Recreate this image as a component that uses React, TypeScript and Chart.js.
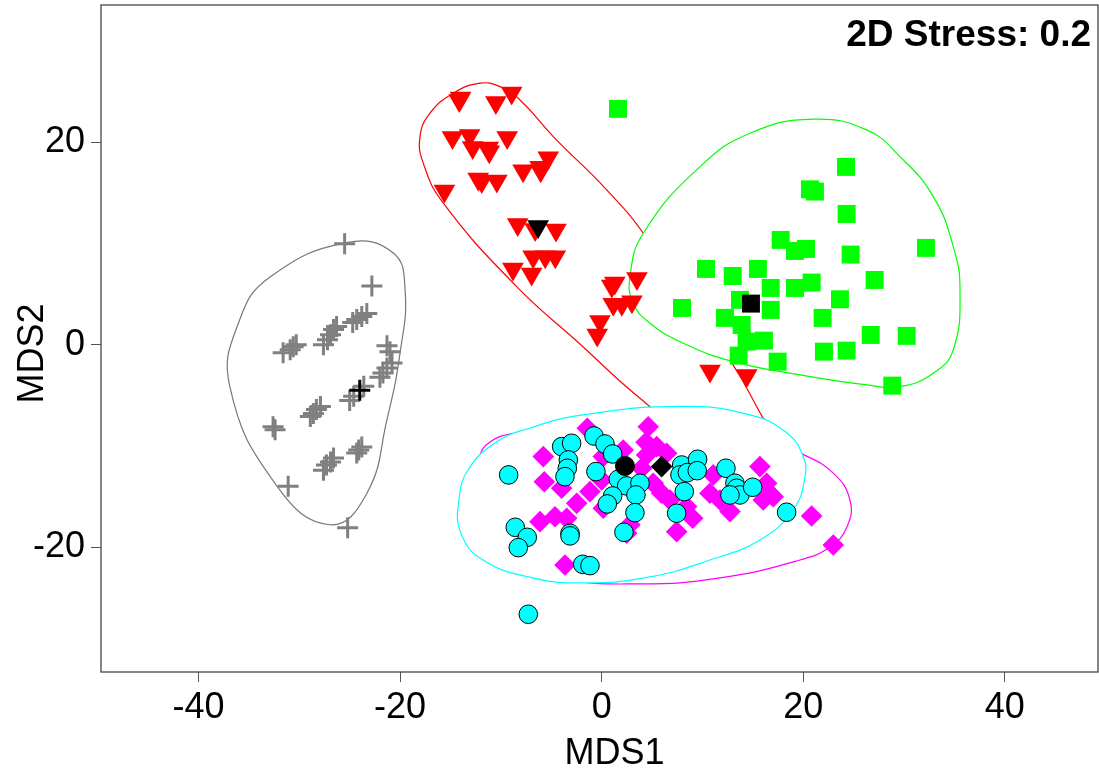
import React, { useEffect, useRef } from "react";
import { Chart, registerables } from "chart.js";

Chart.register(...registerables);

type P = [number, number];

const FONT = "'Liberation Sans', Arial, Helvetica, sans-serif";

const xRange: P = [-49.67, 49.24];
const yRange: P = [-32.36, 33.6];
const xTickValues = [-40, -20, 0, 20, 40];
const yTickValues = [-20, 0, 20];
const xTitle = "   MDS1";
const yTitle = "MDS2   ";
const stressLabel = "2D Stress: 0.2";

const grayPoints: P[] = [
  [-25.5, 10.0], [-22.8, 5.8], [-23.3, 3.1], [-23.8, 2.8], [-24.3, 2.5], [-24.7, 2.2],
  [-26.3, 1.8], [-26.6, 1.5], [-26.9, 1.0], [-27.2, 0.5], [-27.6, 0.0],
  [-30.3, 0.0], [-30.6, -0.2], [-30.9, -0.5], [-31.6, -0.8],
  [-21.3, -0.1], [-21.0, -0.7], [-20.8, -1.8], [-21.3, -2.3], [-21.7, -2.8], [-22.0, -3.2],
  [-23.6, -4.1], [-24.6, -5.1], [-25.0, -5.5],
  [-27.9, -6.1], [-28.3, -6.4], [-28.6, -6.8], [-28.9, -7.1],
  [-32.6, -8.1], [-32.4, -8.4],
  [-23.8, -10.1], [-24.1, -10.4], [-24.3, -10.7],
  [-26.6, -11.2], [-26.9, -11.6], [-27.3, -11.9], [-27.6, -12.4],
  [-31.1, -14.0], [-25.2, -18.1],
];

const redPoints: P[] = [
  [-14.13, 24.15], [-14.0, 24.4], [-10.5, 23.95], [-8.93, 24.9], [-14.8, 20.5], [-13.1, 20.7],
  [-12.8, 19.5], [-11.25, 19.45], [-11.15, 19.1], [-9.37, 20.5], [-5.3, 18.5], [-6.1, 17.55],
  [-6.05, 17.2], [-7.8, 17.2], [-12.25, 16.4], [-11.9, 16.15], [-10.4, 16.2], [-15.6, 15.2],
  [-8.33, 11.9], [-6.6, 11.4], [-4.53, 11.35], [-6.8, 8.7], [-5.6, 8.7], [-4.6, 8.7],
  [-8.8, 7.5], [-6.95, 7.0], [1.3, 6.1], [1.0, 5.8], [3.5, 6.55], [1.15, 4.0], [2.0, 4.0],
  [3.0, 4.25], [-0.17, 2.3], [-0.44, 0.97], [10.75, -2.6], [14.4, -3.05],
];

const greenPoints: P[] = [
  [1.62, 23.33], [24.24, 17.59], [20.66, 15.37], [21.16, 15.15], [24.3, 12.94], [17.76, 10.37],
  [19.18, 9.28], [20.27, 9.48], [32.17, 9.58], [24.7, 8.92], [10.35, 7.5], [13.0, 6.8],
  [15.5, 7.5], [27.08, 6.41], [16.77, 5.62], [19.18, 5.62], [20.83, 6.15], [23.64, 4.5],
  [7.97, 3.64], [13.72, 4.44], [16.77, 3.45], [12.23, 2.66], [13.89, 1.96], [21.92, 2.66],
  [26.69, 0.97], [30.26, 0.88], [14.38, 0.31], [16.1, 0.41], [13.59, -1.07], [17.46, -1.67],
  [22.05, -0.68], [24.3, -0.58], [28.83, -4.04],
];

const magentaPoints: P[] = [
  [-1.43, -8.26], [-5.79, -11.06], [-5.69, -13.54], [-3.97, -14.19], [-6.12, -17.49],
  [-4.63, -17.0], [-3.47, -17.16], [-2.48, -15.68], [-1.16, -14.52], [0.16, -16.17],
  [-3.64, -21.78], [2.14, -10.4], [0.16, -11.06], [3.97, -12.21], [0.0, -13.37],
  [4.62, -8.1], [4.4, -9.65], [5.46, -10.07], [6.45, -10.73], [4.46, -10.9],
  [5.12, -13.69], [5.95, -14.68], [6.78, -15.35], [8.43, -16.0], [9.03, -17.16],
  [7.44, -18.48], [11.07, -12.87], [10.74, -14.68], [11.74, -15.35], [12.73, -16.5],
  [15.7, -12.05], [16.37, -13.69], [17.02, -15.02], [16.03, -15.35], [20.83, -16.93],
  [22.98, -19.8], [2.8, -17.8], [2.48, -18.64],
];

const cyanPoints: P[] = [
  [-9.23, -12.87], [-3.97, -10.07], [-2.98, -9.74], [-3.31, -11.39], [-3.41, -12.21],
  [-3.64, -13.04], [-0.76, -9.02], [0.33, -9.81], [1.09, -10.8], [-0.57, -12.54],
  [1.65, -13.3], [2.48, -13.96], [3.8, -13.69], [3.4, -14.85], [1.09, -14.95],
  [0.56, -15.74], [3.3, -16.6], [2.21, -18.54], [-8.57, -18.05], [-7.38, -19.04],
  [-8.27, -20.06], [-3.14, -18.64], [-3.14, -18.9], [-1.88, -21.71], [-1.16, -21.84],
  [-7.28, -26.65], [7.94, -11.89], [9.52, -11.32], [7.77, -12.87], [8.5, -12.64],
  [9.48, -12.45], [8.2, -14.52], [7.44, -16.66], [12.33, -12.21], [13.22, -13.69],
  [13.39, -14.19], [13.72, -14.85], [12.73, -14.85], [14.98, -14.09], [18.35, -16.56],
];

// group centroids: gray, red, green, magenta, cyan
const centroidPoints: P[] = [
  [-24.0, -4.5], [-6.3, 11.7], [14.81, 4.07], [5.95, -12.05], [2.31, -11.98],
];

const grayHull: P[] = [
  [-25.3, 10.1], [-20.7, 9.1], [-19.5, 5.4], [-20.0, -0.8], [-21.3, -7.4], [-23.3, -14.7],
  [-26.95, -17.8], [-32.2, -14.0], [-36.9, -4.1], [-35.9, 2.5], [-32.9, 6.7],
];

const redHull: P[] = [
  [-12.07, 25.87], [-14.72, 24.88], [-17.03, 22.9], [-18.02, 20.59], [-17.7, 17.96],
  [-15.71, 14.0], [-8.43, 5.75], [-2.32, 0.23], [3.8, -5.29], [9.75, -9.71], [14.71, -10.9],
  [16.7, -8.42], [16.0, -7.23], [13.03, -1.99], [4.13, 11.03], [0.5, 15.32], [-4.8, 20.59],
  [-8.1, 24.2], [-10.09, 25.53],
];

const greenHull: P[] = [
  [2.81, 6.74], [4.13, 11.03], [9.75, 17.62], [14.71, 20.92], [20.99, 22.31], [26.29, 21.25],
  [29.59, 18.61], [32.9, 14.65], [34.88, 9.71], [35.55, 5.43], [34.88, -0.51], [32.9, -2.81],
  [29.59, -4.14], [26.29, -3.97], [19.67, -2.98], [13.06, -1.67], [8.1, 0.15], [4.79, 2.13],
  [3.13, 4.11],
];

const magentaHull: P[] = [
  [-12.37, -13.37], [-12.17, -11.19], [-11.08, -9.61], [-8.5, -8.72], [-5.13, -8.52],
  [1.82, -8.42], [9.75, -8.71], [16.7, -9.5], [19.67, -10.69], [22.95, -12.67],
  [24.63, -15.35], [24.33, -18.02], [22.65, -20.0], [19.67, -21.28], [11.74, -23.06],
  [3.8, -23.65], [-4.13, -23.06], [-10.09, -20.78], [-12.27, -16.83],
];

const cyanHull: P[] = [
  [8.07, -6.1], [14.72, -6.94], [18.38, -8.72], [19.97, -11.0], [20.17, -13.07],
  [18.98, -16.34], [15.7, -19.3], [10.74, -21.28], [4.79, -22.96], [-1.86, -23.55],
  [-6.82, -23.06], [-11.78, -21.28], [-13.96, -18.64], [-14.16, -15.35], [-13.26, -12.38],
  [-10.59, -9.71], [-7.11, -8.23], [-1.86, -6.94],
];

const toXY = (a: P[]) => a.map(([x, y]) => ({ x, y }));

const hullDataset = (label: string, data: P[], color: string, order: number) => ({
  label,
  data: toXY(data),
  showLine: true,
  closedHull: true,
  borderColor: color,
  borderWidth: 1.2,
  backgroundColor: "#ffffff",
  fill: "shape",
  tension: 0.45,
  pointRadius: 0,
  order,
});

const closedHullPlugin = {
  id: "closedHull",
  afterDatasetUpdate(chart: any, args: any) {
    const ds = chart.data.datasets[args.index];
    if (!ds || !ds.closedHull) return;
    const line = args.meta.dataset;
    if (!line) return;
    line._fullLoop = true;
    line._pointsUpdated = false;
    delete line._segments;
    line._path = undefined;
    line.updateControlPoints(chart.chartArea, "x");
  },
};

const boxPlugin = {
  id: "plotBox",
  afterDraw(chart: any) {
    const { ctx, chartArea: a } = chart;
    ctx.save();
    ctx.strokeStyle = "#444444";
    ctx.lineWidth = 1.3;
    ctx.strokeRect(a.left, a.top, a.right - a.left, a.bottom - a.top);
    ctx.restore();
  },
};

const stressPlugin = {
  id: "stressLabel",
  afterDraw(chart: any) {
    const { ctx, chartArea: a } = chart;
    ctx.save();
    ctx.font = `bold 37px ${FONT}`;
    ctx.fillStyle = "#000000";
    ctx.textAlign = "right";
    ctx.textBaseline = "alphabetic";
    ctx.fillText(stressLabel, a.right - 7, a.top + 41);
    ctx.restore();
  },
};

const zeroPadding = (s: any) => {
  s.paddingTop = 0;
  s.paddingBottom = 0;
  s.paddingLeft = 0;
  s.paddingRight = 0;
};

export default function App() {
  const ref = useRef<HTMLCanvasElement | null>(null);

  useEffect(() => {
    if (!ref.current) return;
    const tickFont = { family: FONT, size: 36, lineHeight: 1 };
    const datasets: any[] = [
      hullDataset("gray hull", grayHull, "#777777", 10),
      hullDataset("red hull", redHull, "#ff0000", 9),
      hullDataset("green hull", greenHull, "#00ff00", 8),
      hullDataset("magenta hull", magentaHull, "#ff00ff", 7),
      hullDataset("cyan hull", cyanHull, "#00ffff", 6),
      {
        label: "gray",
        data: toXY(grayPoints),
        pointStyle: "cross",
        pointRadius: 10.5,
        pointBorderWidth: 3,
        pointBorderColor: "#808080",
        pointBackgroundColor: "#808080",
        order: 5,
      },
      {
        label: "red",
        data: toXY(redPoints),
        pointStyle: "triangle",
        pointRotation: 180,
        pointRadius: 12.5,
        pointBorderWidth: 0,
        pointBackgroundColor: "#ff0000",
        pointBorderColor: "#ff0000",
        order: 5,
      },
      {
        label: "green",
        data: toXY(greenPoints),
        pointStyle: "rect",
        pointRadius: 12.7,
        pointBorderWidth: 0,
        pointBackgroundColor: "#00ff00",
        pointBorderColor: "#00ff00",
        order: 5,
      },
      {
        label: "magenta",
        data: toXY(magentaPoints),
        pointStyle: "rectRot",
        pointRadius: 10.8,
        pointBorderWidth: 0,
        pointBackgroundColor: "#ff00ff",
        pointBorderColor: "#ff00ff",
        order: 4,
      },
      {
        label: "cyan",
        data: toXY(cyanPoints),
        pointStyle: "circle",
        pointRadius: 9.3,
        pointBorderWidth: 1,
        pointBackgroundColor: "#00ffff",
        pointBorderColor: "#000000",
        order: 3,
      },
      {
        label: "centroids",
        data: toXY(centroidPoints),
        pointStyle: ["cross", "triangle", "rect", "rectRot", "circle"],
        pointRotation: [0, 180, 0, 0, 0],
        pointRadius: [10.5, 12.5, 12.7, 10.8, 9.5],
        pointBorderWidth: [3, 0, 0, 0, 1],
        pointBackgroundColor: "#000000",
        pointBorderColor: "#000000",
        order: 0,
      },
    ];

    const chart = new Chart(ref.current, {
      type: "scatter",
      data: { datasets },
      options: {
        responsive: false,
        animation: false,
        devicePixelRatio: 1,
        events: [],
        layout: { autoPadding: false, padding: { top: 5, right: 1, left: 0, bottom: 0 } },
        plugins: {
          legend: { display: false },
          tooltip: { enabled: false },
        },
        scales: {
          x: {
            type: "linear",
            position: "bottom",
            min: xRange[0],
            max: xRange[1],
            afterBuildTicks: (s: any) => {
              s.ticks = xTickValues.map((v) => ({ value: v }));
            },
            afterFit: (s: any) => {
              s.height = 100;
              zeroPadding(s);
            },
            border: { display: false },
            grid: {
              drawOnChartArea: false,
              drawTicks: true,
              tickLength: 10,
              tickColor: "#555555",
              tickWidth: 1,
            },
            ticks: {
              color: "#000000",
              font: tickFont,
              padding: 8,
              maxRotation: 0,
              autoSkip: false,
              callback: (v: any) => `${v}`,
            },
            title: {
              display: true,
              text: xTitle,
              color: "#000000",
              font: tickFont,
              padding: { top: 0, bottom: 0 },
            },
          },
          y: {
            type: "linear",
            position: "left",
            min: yRange[0],
            max: yRange[1],
            afterBuildTicks: (s: any) => {
              s.ticks = yTickValues.map((v) => ({ value: v }));
            },
            afterFit: (s: any) => {
              s.width = 101;
              zeroPadding(s);
            },
            border: { display: false },
            grid: {
              drawOnChartArea: false,
              drawTicks: true,
              tickLength: 10,
              tickColor: "#555555",
              tickWidth: 1,
            },
            ticks: {
              color: "#000000",
              font: tickFont,
              padding: 6,
              autoSkip: false,
              callback: (v: any) => `${v}`,
            },
            title: {
              display: true,
              text: yTitle,
              color: "#000000",
              font: tickFont,
              padding: { top: 15, bottom: 0 },
            },
          },
        },
      } as any,
      plugins: [closedHullPlugin, boxPlugin, stressPlugin],
    });

    return () => chart.destroy();
  }, []);

  return (
    <div style={{ position: "absolute", left: 0, top: 0, width: 1099, height: 772, background: "#ffffff" }}>
      <canvas ref={ref} width={1099} height={772} style={{ display: "block" }} />
    </div>
  );
}
